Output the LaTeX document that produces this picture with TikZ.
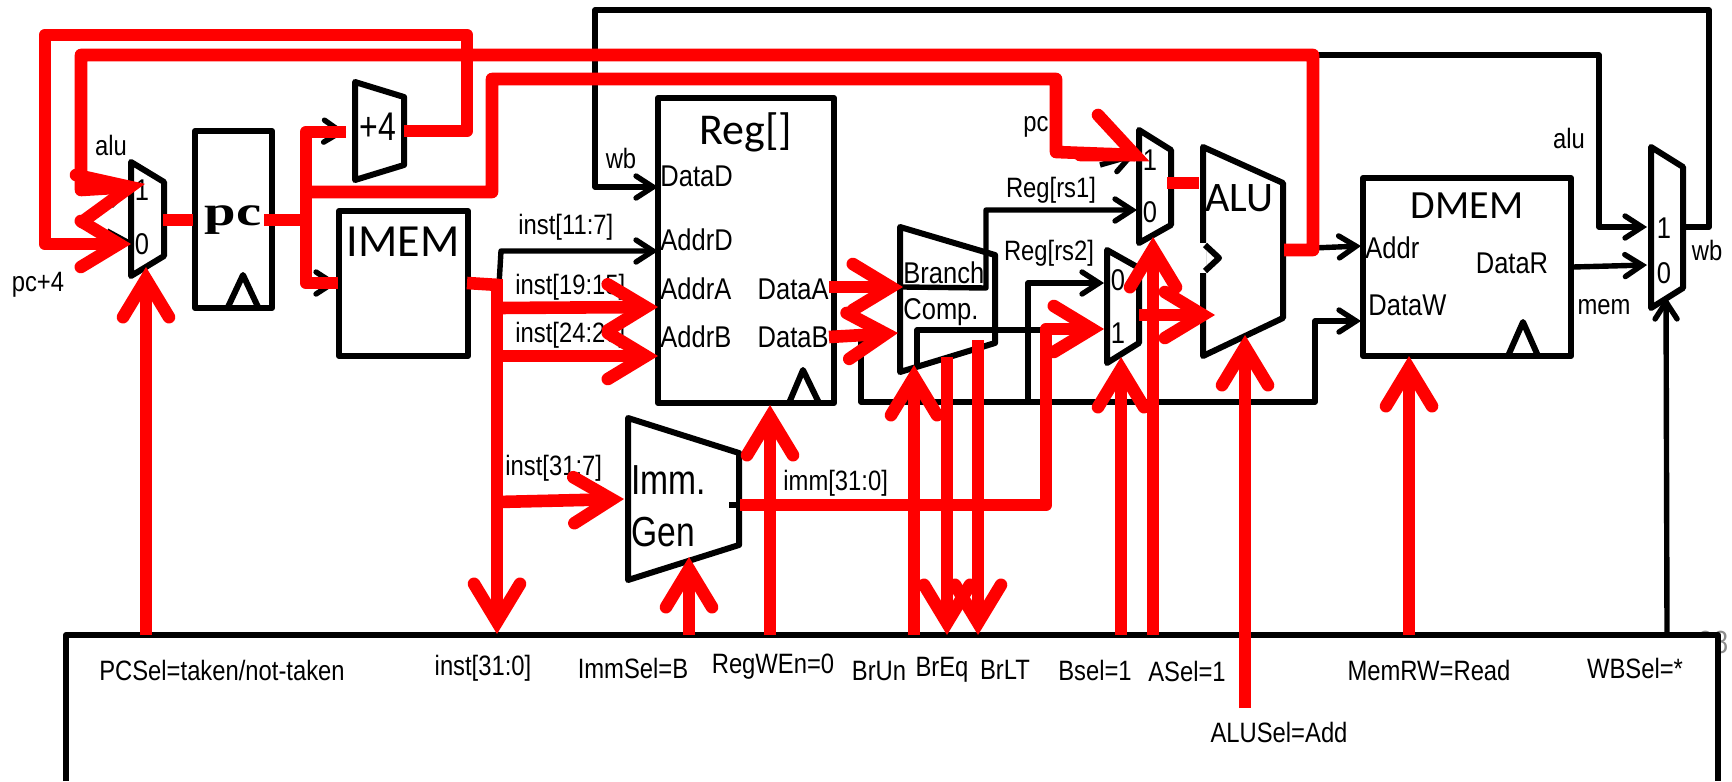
\documentclass[tikz,border=0pt]{standalone}
\usepackage{fontspec}
\usetikzlibrary{arrows.meta}
\setmainfont[FakeStretch=0.85]{Liberation Sans}
\newfontfamily\titlefont{Carlito}
\newfontfamily\narrowfont[FakeStretch=0.8]{Liberation Sans}
\newfontfamily\pcfont[FakeStretch=1.35]{Liberation Serif}
\newcommand{\fsz}[1]{\fontsize{#1}{#1}\selectfont}
\tikzset{
  unit/.style={line width=3pt,black,line join=round},
  boxblock/.style={draw,line width=3pt,line join=round,inner sep=0pt,outer sep=0pt},
  wire/.style={line width=2.7pt,black,line join=round},
  wirearrow/.style={wire,-{Straight Barb[length=8.5pt,width=11pt,line cap=round,line join=miter]}},
  redwire/.style={line width=6.3pt,red,line join=round},
  redarrow/.style={redwire,-{Straight Barb[length=19pt,width=23pt,line cap=round,line join=miter]}},
  redbarb/.style={line width=6.3pt,red,line join=miter,line cap=round},
  lab/.style={inner sep=0pt,font=\fsz{14}},
  labl/.style={lab,anchor=west},
  portlab/.style={inner sep=0pt,font=\fsz{15}},
  title/.style={inner sep=0pt,font=\titlefont\fsz{22}},
  digit/.style={inner sep=0pt,font=\fsz{15}},
  big/.style={inner sep=0pt,font=\narrowfont\fsz{21}},
}
\begin{document}
\begin{tikzpicture}[x=0.5pt,y=-0.5pt]
\useasboundingbox (0,0) rectangle (1732,781);
% ---- named points
\coordinate (pcmuxIn1) at (130,187);
\coordinate (pcmuxIn0) at (131,244);
\coordinate (pcmuxOut) at (163,220);
\coordinate (pcmuxSel) at (146,267);
\coordinate (pcIn) at (193,220);
\coordinate (pcOut) at (264,220);
\coordinate (pcBr) at (306,220);
\coordinate (addIn) at (346,132);
\coordinate (addOut) at (404,131);
\coordinate (imemIn) at (338,283);
\coordinate (imemOut) at (467,283);
\coordinate (instBr) at (499,285);
\coordinate (wbRegIn) at (658,187);
\coordinate (addrD) at (658,251);
\coordinate (addrA) at (658,307);
\coordinate (addrB) at (658,356);
\coordinate (dataA) at (829,287);
\coordinate (dataB) at (829,337);
\coordinate (cmpA) at (903,287);
\coordinate (cmpB) at (898,333);
\coordinate (amux1) at (1135,155);
\coordinate (amux0) at (1137,210);
\coordinate (bmux0) at (1104,283);
\coordinate (bmux1) at (1104,329);
\coordinate (amuxOut) at (1167,183);
\coordinate (aluA) at (1199,183);
\coordinate (bmuxOut) at (1139,315);
\coordinate (aluB) at (1215,315);
\coordinate (aluOut) at (1284,250);
\coordinate (aluBr) at (1313,55);
\coordinate (dAddr) at (1361,246);
\coordinate (dData) at (1361,321);
\coordinate (dOut) at (1573,267);
\coordinate (wmux0) at (1647,265);
\coordinate (wmux1) at (1647,227);
\coordinate (wmuxOut) at (1686,227);
\coordinate (wmuxSel) at (1666,297);
\coordinate (immIn) at (624,499);
\coordinate (immOut) at (740,505);

% ---- units
\node[text=black!45,inner sep=0pt,font=\fsz{16}] (pageno) at (1713,642) {38};
\path[unit,draw,fill=white] (66,781) -- (66,635) -- (1718,635) -- (1718,781);
\draw[unit] (131,162) -- (164,182) -- (164,256) -- (131,276) -- cycle;
\node[boxblock,minimum width=38.5pt,minimum height=88.5pt] (pcbox) at (233.5,219.5) {};
\draw[unit] (228,307) -- (243,275) -- (258,307);
\draw[unit] (355,82) -- (404,97) -- (404,165) -- (355,180) -- cycle;
\node[boxblock,minimum width=64.5pt,minimum height=72.5pt] (imem) at (403.5,283.5) {};
\node[boxblock,minimum width=88pt,minimum height=152.5pt] (reg) at (746,250.5) {};
\draw[unit] (789,403) -- (803,370) -- (819,403);
\draw[unit] (628,418) -- (739,453) -- (739,545) -- (628,580) -- cycle;
\draw[unit] (900,227) -- (995,255) -- (995,343) -- (900,372) -- cycle;
\draw[unit] (1139,130) -- (1171,150) -- (1171,225) -- (1139,243) -- cycle;
\draw[unit] (1107,250) -- (1139,268) -- (1139,343) -- (1107,363) -- cycle;
\draw[unit] (1203,147) -- (1283,183) -- (1283,318) -- (1203,356) -- cycle;
\draw[white,line width=3.4pt] (1203,243) -- (1203,273);
\draw[unit] (1205,245) -- (1219,258) -- (1205,271);
\node[boxblock,minimum width=104pt,minimum height=89pt] (dmem) at (1467,267) {};
\draw[unit] (1508,356) -- (1523,322) -- (1538,356);
\draw[unit] (1651,147) -- (1683,167) -- (1683,288) -- (1651,308) -- cycle;

% ---- black wires
\draw[wirearrow] (wmuxOut) -- (1709,227) -- (1709,10) -- (595,10) -- (595,187) -- (wbRegIn);
\draw[wirearrow] (aluBr) -- (1599,55) -- (1599,227) -- (wmux1);
\draw[wirearrow] (dOut) -- (wmux0);
\draw[wirearrow] (1313,248) -- (dAddr);
\draw[wirearrow] (dataB) -- (861,337) -- (861,402) -- (1315,402) -- (1315,321) -- (dData);
\draw[wirearrow] (1028,402) -- (1028,283) -- (bmux0);
\draw[wirearrow] (cmpA) -- (986,288) -- (986,210) -- (amux0);
\draw[wire] (917,367) -- (917,330) -- (1045,330);
\draw[wirearrow] (instBr) -- (501,251) -- (addrD);
\draw[wirearrow] (320,131) -- (addIn);
\draw[wirearrow] (310,283) -- (imemIn);
\draw[wirearrow] (1100,165) -- (amux1);
\draw[wire] (729,505) -- (immOut);
\draw[wirearrow] (1667,635) -- (wmuxSel);
\draw[wire] (111,206) -- (pcmuxIn1);
\draw[wire] (107,231) -- (pcmuxIn0);

% ---- text
\node[title,font=\titlefont\fsz{23}] (imemT) at (403,242) {IMEM};
\node[title] (regT) at (746,132) {Reg[]};
\node[title,font=\titlefont\fsz{20}] (dmemT) at (1467,206) {DMEM};
\node[title,font=\titlefont\fsz{21}] (aluT) at (1239,198) {ALU};
\node[inner sep=0pt,font=\pcfont\bfseries\fsz{21}] (pcT) at (233,220) {pc};
\node[big,font=\narrowfont\fsz{20}] (addT) at (378,127) {+4};
\node[big,anchor=west] (immT1) at (631,480) {Imm.};
\node[big,anchor=west] (immT2) at (631,532) {Gen};
\node[labl,font=\fsz{15}] (brT) at (903,273) {Branch};
\node[labl,font=\fsz{15}] (cmpT) at (903,312) {Comp.};
\node[digit] (m1a) at (142,190) {1};
\node[digit] (m1b) at (142,244) {0};
\node[digit] (m2a) at (1150,160) {1};
\node[digit] (m2b) at (1150,212) {0};
\node[digit] (m3a) at (1118,280) {0};
\node[digit] (m3b) at (1118,333) {1};
\node[digit] (m4a) at (1664,228) {1};
\node[digit] (m4b) at (1664,273) {0};
\node[portlab,anchor=west] (lDataD) at (660,176) {DataD};
\node[portlab,anchor=west] (lAddrD) at (660,240) {AddrD};
\node[portlab,anchor=west] (lAddrA) at (660,289) {AddrA};
\node[portlab,anchor=west] (lAddrB) at (660,337) {AddrB};
\node[portlab,anchor=east] (lDataA) at (829,289) {DataA};
\node[portlab,anchor=east] (lDataB) at (829,337) {DataB};
\node[portlab,anchor=west] (lAddr) at (1365,248) {Addr};
\node[portlab,anchor=west] (lDataW) at (1368,305) {DataW};
\node[portlab] (lDataR) at (1512,263) {DataR};
\node[lab] (lmem) at (1604,307) {mem};
\node[lab] (lwb) at (1707,250) {wb};
\node[lab] (lalu2) at (1569,138) {alu};
\node[lab] (lalu1) at (111,145) {alu};
\node[lab] (lpc4) at (38,285) {pc+4};
\node[lab] (lwb2) at (621,158) {wb};
\node[lab] (lpc) at (1036,127) {pc};
\node[labl] (l117) at (518,227) {inst[11:7]};
\node[labl] (l1915) at (515,287) {inst[19:15]};
\node[labl] (l2420) at (515,335) {inst[24:20]};
\node[labl] (l317) at (505,468) {inst[31:7]};
\node[labl] (limm) at (783,483) {imm[31:0]};
\node[lab] (lrs1) at (1051,190) {Reg[rs1]};
\node[lab] (lrs2) at (1049,253) {Reg[rs2]};
\node[lab] (tPC) at (222,670) {PCSel=taken/not-taken};
\node[lab] (tInst) at (483,668) {inst[31:0]};
\node[lab] (tImm) at (633,668) {ImmSel=B};
\node[lab] (tReg) at (773,667) {RegWEn=0};
\node[lab] (tBrUn) at (879,671) {BrUn};
\node[lab] (tBrEq) at (942,670) {BrEq};
\node[lab] (tBrLT) at (1005,670) {BrLT};
\node[lab] (tB) at (1095,670) {Bsel=1};
\node[lab] (tA) at (1187,671) {ASel=1};
\node[lab] (tMem) at (1429,670) {MemRW=Read};
\node[lab] (tWB) at (1635,668) {WBSel=*};
\node[lab] (tALU) at (1279,732) {ALUSel=Add};

% ---- red highlighted paths
\draw[redwire] (pcmuxOut) -- (pcIn);
\draw[redarrow] (addOut) -- (467,131) -- (467,35) -- (45,35) -- (45,244) -- (pcmuxIn0);
\draw[redwire] (aluOut) -- (1313,250) -- (aluBr) -- (81,55) -- (81,190) -- (pcmuxIn1);
\draw[redbarb] (76,175) -- (pcmuxIn1) -- (82,222);
\draw[redwire] (pcOut) -- (pcBr) -- (306,132) -- (addIn);
\draw[redwire] (pcBr) -- (306,283) -- (imemIn);
\draw[redwire] (306,192) -- (492,192) -- (492,79) -- (1056,79) -- (1056,152) -- (amux1);
\draw[redbarb] (1098,115) -- (amux1) -- (1080,155);
\draw[redwire] (imemOut) -- (instBr);
\draw[redarrow] (497,279) -- (497,634);
\draw[redarrow] (497,308) -- (addrA);
\draw[redarrow] (497,356) -- (addrB);
\draw[redarrow] (497,502) -- (immIn);
\draw[redarrow] (dataA) -- (cmpA);
\draw[redarrow] (dataB) -- (cmpB);
\draw[redarrow] (immOut) -- (1046,505) -- (1046,329) -- (bmux1);
\draw[redwire] (amuxOut) -- (aluA);
\draw[redarrow] (bmuxOut) -- (aluB);
\draw[redarrow] (146,635) -- (pcmuxSel);
\draw[redarrow] (689,635) -- (689,557);
\draw[redarrow] (770,635) -- (770,405);
\draw[redarrow] (914,635) -- (914,365);
\draw[redarrow] (947,357) -- (947,635);
\draw[redarrow] (978,340) -- (978,635);
\draw[redarrow] (1121,635) -- (1121,357);
\draw[redarrow] (1153,635) -- (1153,237);
\draw[redarrow] (1245,708) -- (1245,335);
\draw[redarrow] (1409,635) -- (1409,356);
\end{tikzpicture}
\end{document}
